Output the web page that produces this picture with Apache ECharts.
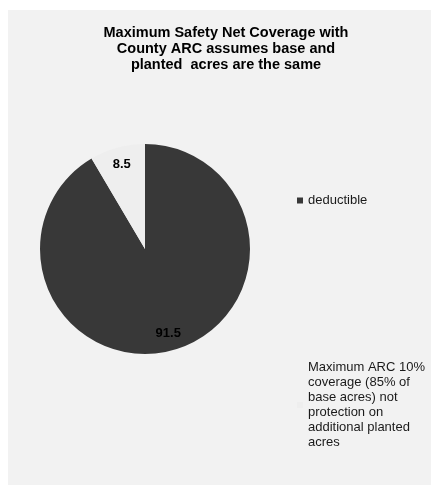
<!DOCTYPE html>
<html>
<head>
<meta charset="utf-8">
<script src="https://cdn.jsdelivr.net/npm/echarts@6/dist/echarts.min.js"></script>
<style>
html,body{margin:0;padding:0;background:#fff;}
#c{width:431px;height:485px;}
</style>
</head>
<body>
<div id="c"></div>
<script>
const categories = ['deductible', 'Maximum ARC 10% coverage (85% of base acres) not protection on additional planted acres'];
const values = [91.5, 8.5];
const colors = ['#383838', '#eeeeee'];
const titleText = 'Maximum Safety Net Coverage with\nCounty ARC assumes base and\nplanted  acres are the same';

const FONT = '"Liberation Sans", Arial, sans-serif';
const pieData = categories.map((n, i) => ({ name: n, value: values[i], itemStyle: { color: colors[i] } }));

const chart = echarts.init(document.getElementById('c'));
chart.setOption({
  backgroundColor: '#ffffff',
  animation: false,
  graphic: [{
    type: 'rect', left: 8, top: 10, z: -10,
    shape: { width: 423, height: 475 },
    style: { fill: '#f2f2f2' }
  }],
  title: {
    text: titleText,
    left: 221, top: 20, textAlign: 'center',
    textStyle: { fontFamily: FONT, fontSize: 14.5, fontWeight: 'bold', color: '#000', lineHeight: 16 }
  },
  legend: [{
    data: [categories[0]],
    orient: 'vertical', left: 297, top: 194, padding: 0,
    itemWidth: 6, itemHeight: 6, icon: 'rect',
    textStyle: { fontFamily: FONT, fontSize: 13, color: '#1a1a1a' }
  }, {
    data: [categories[1]],
    orient: 'vertical', left: 297, top: 360, padding: 0,
    itemWidth: 6, itemHeight: 6, icon: 'rect',
    formatter: function () {
      return 'Maximum ARC 10%\ncoverage (85% of\nbase acres) not\nprotection on\nadditional planted\nacres';
    },
    textStyle: { fontFamily: FONT, fontSize: 13, color: '#1a1a1a', lineHeight: 15 }
  }],
  series: [{
    type: 'pie',
    center: [145, 249], radius: 105,
    startAngle: 90, clockwise: true,
    label: { show: false }, labelLine: { show: false },
    emphasis: { disabled: true },
    data: pieData
  }, {
    type: 'pie',
    center: [145, 249], radius: [65, 105],
    startAngle: 90, clockwise: true, silent: true, z: 5,
    itemStyle: { color: 'rgba(0,0,0,0)' },
    label: {
      show: true, position: 'inside',
      fontFamily: FONT, fontSize: 13, fontWeight: 'bold', color: '#000',
      formatter: p => String(p.value)
    },
    labelLine: { show: false },
    emphasis: { disabled: true },
    data: categories.map((n, i) => ({ name: n, value: values[i], itemStyle: { color: 'rgba(0,0,0,0)' } }))
  }]
});
</script>
</body>
</html>
